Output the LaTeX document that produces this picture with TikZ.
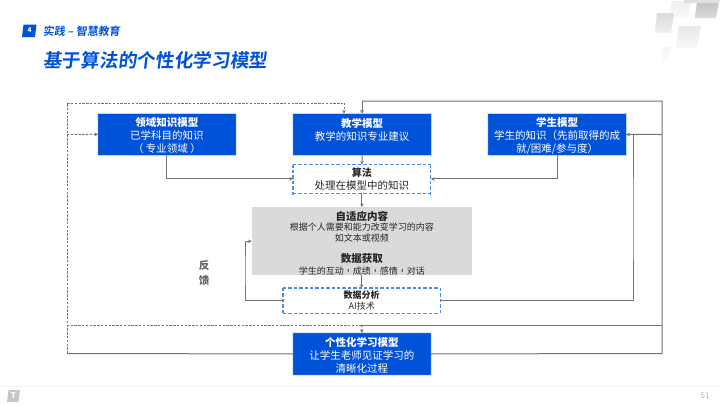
\documentclass[tikz,border=0pt]{standalone}
\usepackage{fontspec}
\setmainfont{Noto Sans CJK SC}
\newfontfamily\titlefont[FakeSlant=0.12,BoldFont={Noto Sans CJK SC Bold}]{Noto Sans CJK SC}
\newfontfamily\tcfont{Noto Sans CJK TC}
\usetikzlibrary{arrows.meta,calc}
\definecolor{brand}{rgb}{0,0.32,0.85}
\definecolor{edge}{gray}{0.45}
\definecolor{dashblue}{rgb}{0.30,0.55,0.95}
\definecolor{boxrim}{rgb}{0.62,0.75,0.95}
\definecolor{panel}{HTML}{DADADC}
\newcommand{\hd}[1]{{\rule{0pt}{11.2pt}\bfseries #1}}
\newcommand{\sm}[1]{{\fontsize{9}{10}\selectfont #1}}
\newcommand{\cm}{{\tcfont ，}}
\newcommand{\rimof}[1]{\fill[boxrim,even odd rule] ($(#1.north west)+(-.5,-.5)$) rectangle ($(#1.south east)+(.5,.5)$) (#1.north west) rectangle (#1.south east);}
\newcommand{\horzdashes}[2]{\foreach \i in {0,...,#2}{\fill[dashblue] ($(#1)+(\i*5.4,-.55)$) rectangle ($(#1)+(\i*5.4+3.4,.55)$);}}
\newcommand{\vertdashes}[2]{\foreach \i in {0,...,#2}{\fill[dashblue] ($(#1)+(-.55,\i*5.4)$) rectangle ($(#1)+(.55,\i*5.4+3.4)$);}}
\tikzset{
  x=1pt,y=-1pt,
  bluebox/.style={fill=brand,text=white,align=center,inner sep=0pt,anchor=north west,font=\fontsize{10.5}{12.9}\selectfont},
  dashbox/.style={fill=white,text=black!85,align=center,inner sep=0pt,anchor=north west},
  graybox/.style={fill=panel,text=black!85,align=center,inner sep=0pt,anchor=north west,font=\fontsize{10.5}{12.6}\selectfont},
  tip/.style={-{Stealth[length=3.6pt,width=3.6pt]}},
  conn/.style={draw=edge,line width=1pt,tip},
  plain/.style={draw=edge,line width=1pt},
  dconn/.style={draw=edge,line width=1pt,dash pattern=on 2.4pt off 1.4pt,tip},
  dplain/.style={draw=edge,line width=1pt,dash pattern=on 2.4pt off 1.4pt},
  deco/.style={draw=none},
}
\begin{document}
\begin{tikzpicture}
\useasboundingbox (0,0) rectangle (720,405);
\fill[white] (0,0) rectangle (720,405);

% corner decoration
\shade[deco,top color=black!6,bottom color=black!2] (672,1)--(692,1)--(688,18)--(669,18)--cycle;
\shade[deco,top color=black!24,bottom color=black!14] (697,1)--(719,1)--(716,18)--(695,18)--cycle;
\fill[black!12] (684,0)--(720,0)--(719,3)--(684,3)--cycle;
\shade[deco,top color=black!14,bottom color=black!6] (657,13)--(674,13)--(671,33)--(655,33)--cycle;
\shade[deco,top color=black!9,bottom color=black!3] (679,26)--(701,26)--(697,48)--(676,48)--cycle;
\shade[deco,top color=black!4,bottom color=black!1] (663,47)--(670,47)--(668,62)--(661,62)--cycle;

% header
\fill[brand] (23.5,24.5)--(36.5,24.5)--(35,37)--(22,37)--cycle;
\node[text=white,inner sep=0pt] (secnum) at (29.5,30.5) {\fontsize{6.5}{7}\selectfont\bfseries 4};
\node[text=brand,inner sep=0pt,anchor=west] (sec) at (43,31) {\titlefont\fontsize{11}{12}\selectfont\bfseries 实践\hspace{2.5pt}–\hspace{2.5pt}智慧教育};
\node[text=brand,inner sep=0pt,anchor=west] (title) at (43,60) {\titlefont\fontsize{18.7}{22}\selectfont\bfseries 基于算法的个性化学习模型};

% nodes
\node[bluebox,minimum width=137.5pt,minimum height=41.5pt] (dom) at (98,113.5) {\hd{领域知识模型}\\ 已学科目的知识\\ （ 专业领域 ）};
\node[bluebox,minimum width=138pt,minimum height=41.5pt] (tea) at (293,113.5) {\hd{教学模型}\\ 教学的知识专业建议\\ \rule{0pt}{9pt}};
\node[bluebox,minimum width=138pt,minimum height=41.5pt] (stu) at (488,113.5) {\hd{学生模型}\\ 学生的知识（先前取得的成\\ 就/困难/参与度）};
\node[dashbox,minimum width=137.5pt,minimum height=28.5pt,font=\fontsize{10.5}{13.4}\selectfont] (alg) at (293,164.5) {\fontsize{10}{13.4}\selectfont\bfseries 算法\\ 处理在模型中的知识};
\node[graybox,minimum width=220pt,minimum height=68pt] (gray) at (251.7,207) {\rule{0pt}{13pt}\bfseries 自适应内容\\[-2pt] \sm{根据个人需要和能力改变学习的内容}\\[-2pt] \sm{如文本或视频}\\[8.5pt] {\bfseries 数据获取}\\[-0.6pt] \sm{学生的互动\cm 成绩\cm 感情\cm 对话}};
\node[dashbox,minimum width=157pt,minimum height=25pt,font=\fontsize{9}{10.6}\selectfont] (ana) at (283,288) {\bfseries 数据分析\\ AI技术};
\node[bluebox,minimum width=137.5pt,minimum height=41.5pt] (per) at (293,333) {\hd{个性化学习模型}\\ 让学生老师见证学习的\\ 清晰化过程};
\node[text=black!60,inner sep=0pt,align=center,font=\fontsize{10.5}{15}\selectfont\bfseries] (fan) at (204,273.5) {反\\ 馈};

% rims and dashed borders
\rimof{dom}\rimof{tea}\rimof{stu}\rimof{per}
\horzdashes{alg.north west}{25}
\horzdashes{alg.south west}{25}
\vertdashes{alg.north west}{5}
\vertdashes{alg.north east}{5}
\horzdashes{ana.north west}{28}
\horzdashes{ana.south west}{28}
\vertdashes{ana.north west}{4}
\vertdashes{ana.north east}{4}

% routing points
\coordinate (lt) at (67,103);
\coordinate (lm) at (67,134.5);
\coordinate (lq) at (67,325);
\coordinate (lb) at (67,353.5);
\coordinate (rt) at (662,101);
\coordinate (rm) at (662,134.5);
\coordinate (rq) at (662,325);
\coordinate (rb) at (662,353.5);
\coordinate (ttop) at (362,101);
\coordinate (tin) at (344,113.5);
\coordinate (ttip) at (362,113.5);
\coordinate (tdash) at (344,103);
\coordinate (qm) at (361.7,325);
\coordinate (fb) at (245,270);
\coordinate (ax) at (633,220);

% connectors
\draw[conn] (dom.south) |- (alg.west);
\draw[conn] (stu.south) |- (alg.east);
\draw[conn] (tea.south) -- (alg.north);
\draw[conn] (alg.south) -- (gray.north-|alg.south);
\draw[conn] (gray.south-|ana.north) -- (ana.north);
\draw[conn] (ana.west) -| (fb) |- (gray.west);
\draw[plain] (ana.east) -| (ax) |- (stu.east);
\draw[plain] (per.east) -- (rb) -- (rt) -- (ttop);
\draw[conn] (ttop) -- (ttip);
\draw[conn] (rm) -- (stu.east);
\draw[plain] (rq) -- (qm);
\draw[dconn] (qm) -- (per.north);
\draw[dplain] (qm) -- (lq);
\draw[plain] (per.west) -- (lb);
\draw[dplain] (lb) -- (lt) -- (tdash);
\draw[dconn] (tdash) -- (tin);
\draw[dconn] (lm) -- (dom.west);

% footer
\draw[black!4,line width=0.8pt] (0,386.5) -- (720,386.5);
\fill[black!22] (8.5,390)--(20,390)--(18.5,402)--(7,402)--cycle;
\node[text=white,inner sep=0pt] (logo) at (13.5,396) {\fontsize{8}{9}\selectfont\bfseries T};
\node[text=black!30,inner sep=0pt] (page) at (705,396) {\fontsize{8}{9}\selectfont 51};
\end{tikzpicture}
\end{document}
